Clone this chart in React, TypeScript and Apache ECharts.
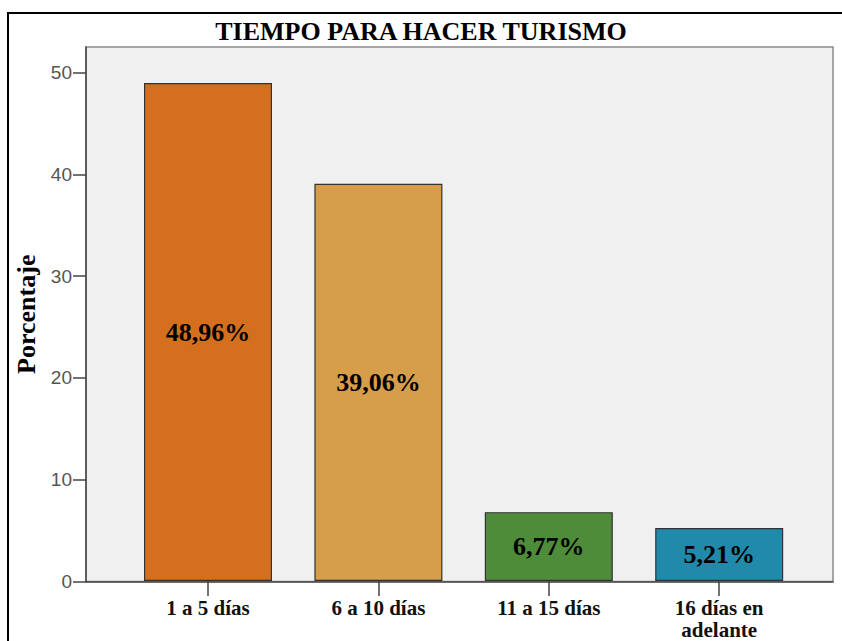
import React, { useEffect, useRef } from "react";
import * as echarts from "echarts";

const titleText = "TIEMPO PARA HACER TURISMO";
const yAxisName = "Porcentaje";
const categories = ["1 a 5 días", "6 a 10 días", "11 a 15 días", "16 días en\nadelante"];
const values = [48.96, 39.06, 6.77, 5.21];
const barColors = ["#D46F1E", "#D69E4B", "#4F8C39", "#2189AA"];
const yTicks = [0, 10, 20, 30, 40, 50];
const yMax = 52.5;

const SERIF = "'Liberation Serif', 'DejaVu Serif', serif";
const SANS = "'Liberation Sans', Arial, sans-serif";

export default function App() {
  const ref = useRef<HTMLDivElement>(null);
  useEffect(() => {
    if (!ref.current) return;
    const chart = echarts.init(ref.current, undefined, { renderer: "svg" });
    chart.setOption({
      animation: false,
      backgroundColor: "#ffffff",
      title: {
        text: titleText,
        left: "center",
        top: 13,
        textStyle: { fontFamily: SERIF, fontWeight: "bold", fontSize: 26, color: "#000" },
      },
      graphic: [
        {
          type: "rect",
          shape: { x: 8, y: 13, width: 900, height: 700 },
          style: { fill: "none", stroke: "#000", lineWidth: 2 },
          silent: true,
        },
      ],
      grid: [
        {
          left: 86, right: 9, top: 47, bottom: 59.5,
          show: true, backgroundColor: "#F0F0F0", borderColor: "#8A8A8A", borderWidth: 1.5,
        },
        { left: 122.8, right: 37.6, top: 47, bottom: 59.5 },
      ],
      xAxis: [
        {
          type: "value", gridIndex: 0, min: 0, max: 1,
          axisLine: { show: true, onZero: false, lineStyle: { color: "#444", width: 1.5 } },
          axisTick: { show: false }, axisLabel: { show: false }, splitLine: { show: false },
        },
        {
          type: "category", gridIndex: 1, data: categories,
          axisLine: { show: false },
          axisTick: { show: true, alignWithLabel: true, length: 15, lineStyle: { color: "#444", width: 1.5 } },
          axisLabel: {
            interval: 0, margin: 16, fontFamily: SERIF, fontWeight: "bold", fontSize: 21,
            lineHeight: 22, color: "#111",
          },
        },
      ],
      yAxis: [
        {
          type: "value", gridIndex: 0, min: 0, max: yMax, interval: 10,
          name: yAxisName, nameLocation: "middle", nameGap: 46, nameRotate: 90,
          nameTextStyle: { fontFamily: SERIF, fontWeight: "bold", fontSize: 26, color: "#000" },
          axisLine: { show: true, lineStyle: { color: "#444", width: 1.5 } },
          axisTick: { show: true, length: 13, customValues: yTicks, lineStyle: { color: "#444", width: 1.5 } },
          axisLabel: { customValues: yTicks, margin: 14, fontFamily: SANS, fontSize: 19, color: "#555" },
          splitLine: { show: false },
        },
        { type: "value", gridIndex: 1, min: 0, max: yMax, show: false },
      ],
      series: [
        {
          type: "bar",
          xAxisIndex: 1,
          yAxisIndex: 1,
          barWidth: 128,
          data: values.map((v, i) => ({ value: v, itemStyle: { color: barColors[i] } })),
          itemStyle: { borderColor: "#333", borderWidth: 1.2 },
          label: {
            show: true,
            position: "inside",
            formatter: (p: any) => p.value.toFixed(2).replace(".", ",") + "%",
            fontFamily: SERIF, fontWeight: "bold", fontSize: 26, color: "#000",
          },
        },
      ],
    });
    return () => chart.dispose();
  }, []);
  return <div ref={ref} style={{ position: "absolute", left: 0, top: 0, width: 842, height: 641 }} />;
}
